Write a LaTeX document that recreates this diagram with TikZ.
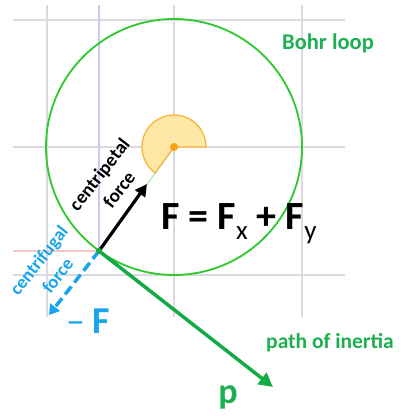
\documentclass[tikz,border=0pt]{standalone}
\usepackage{fontspec}
\setmainfont{Carlito}
\usetikzlibrary{arrows.meta}
\definecolor{gridgray}{RGB}{218,218,224}
\definecolor{gridblue}{RGB}{200,200,245}
\definecolor{gridred}{RGB}{250,200,200}
\definecolor{loopgreen}{RGB}{45,200,45}
\definecolor{textgreen}{RGB}{30,175,80}
\definecolor{arrowgreen}{RGB}{20,170,70}
\definecolor{sky}{RGB}{25,165,235}
\definecolor{secfill}{RGB}{255,232,165}
\definecolor{secedge}{RGB}{245,180,60}
\definecolor{dotorange}{RGB}{250,160,20}
\definecolor{paleline}{RGB}{160,230,160}
\tikzset{
  gridline/.style={gridgray, line width=1.2pt},
  vec/.style={line width=3.5pt},
  lbl/.style={inner sep=0pt},
}
\begin{document}
\begin{tikzpicture}[x=1pt,y=-1pt]
\useasboundingbox (0,0) rectangle (403,416);
% grid
\draw[gridline] (13,20) -- (345,20);
\draw[gridline] (13,147) -- (345,147);
\draw[gridline] (13,275) -- (345,275);
\draw[gridline] (47,5) -- (47,317);
\draw[gridline] (174,5) -- (174,317);
\draw[gridline] (302,5) -- (302,317);
\coordinate (O) at (174,147);
\coordinate (P) at (99,251);
\coordinate (Q) at (147,184);
\coordinate (M) at (49,315);
\coordinate (T) at (273,387);
\draw[gridblue, line width=1.2pt] (99,5) -- (P);
\draw[gridred, line width=1.2pt] (13,251) -- (P);
% loop
\draw[loopgreen, line width=1.8pt] (O) circle (128pt);
\draw[paleline, line width=1pt] (O) -- (P);
% sector
\filldraw[fill=secfill, draw=secedge, line width=1.3pt] (O) -- ++(32pt,0pt) arc[start angle=0, end angle=234, radius=32pt] -- cycle;
\fill[dotorange] (O) circle (4pt);
% vectors
\draw[line width=3.2pt, -{Triangle[length=12pt,width=12pt]}] (P) -- (Q);
\draw[sky, vec, dash pattern=on 10pt off 5pt, -{Triangle[length=10pt,width=12pt]}] (P) -- (M);
\draw[arrowgreen, vec, -{Triangle[length=14pt,width=14pt]}] (P) -- (T);
\fill[arrowgreen] (P) circle (3pt);
% labels
\node[lbl, textgreen, font=\fontsize{22.5}{26}\selectfont\bfseries] (bohr) at (328,43) {Bohr loop};
\node[lbl, textgreen, font=\fontsize{21.5}{26}\selectfont\bfseries] (inertia) at (330,343) {path of inertia};
\node[lbl, textgreen, font=\fontsize{36}{40}\selectfont\bfseries, anchor=base] (p) at (228,403) {p};
\node[lbl, sky, font=\fontsize{38}{42}\selectfont, anchor=base] (mf) at (88,333) {–\hspace{0.2em}\textbf{F}};
\node[lbl, font=\fontsize{40}{44}\selectfont\bfseries, anchor=base] (eq) at (239,229) {F = F\raisebox{-0.25em}{\mdseries\fontsize{27}{28}\selectfont x} + F\raisebox{-0.25em}{\mdseries\fontsize{27}{28}\selectfont y}};
\node[lbl, rotate=52, align=center, font=\fontsize{19}{25}\selectfont\bfseries] (cp) at (109,182) {centripetal\\force};
\node[lbl, sky, rotate=52, align=center, font=\fontsize{18.5}{24}\selectfont\bfseries] (cf) at (48,268) {centrifugal\\force};
\end{tikzpicture}
\end{document}
